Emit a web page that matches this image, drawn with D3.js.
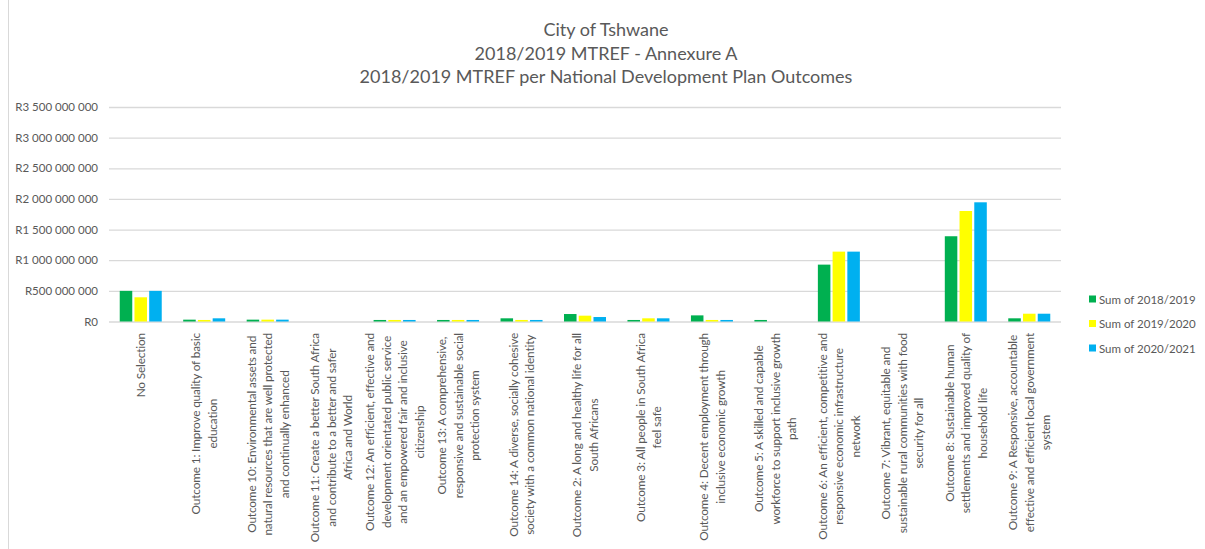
<!DOCTYPE html>
<html lang="en">
<head>
  <meta charset="UTF-8" />
  <title>City of Tshwane MTREF</title>
  <script src="https://cdn.jsdelivr.net/npm/d3@7"></script>
  <style>
    body { margin: 0; background: #fff; }
    text { font-family: Lato, "Open Sans", sans-serif; fill: #595959; }
  </style>
</head>
<body>
  <svg id="chart" width="1205" height="549"></svg>
  <script>
    // categories, wrapped the way the original labels are
    let outcomes = [
      "No Selection",
      "Outcome 1: Improve quality of basic\neducation",
      "Outcome 10: Environmental assets and\nnatural resources that are well protected\nand continually enhanced",
      "Outcome 11: Create a better South Africa\nand contribute to a better and safer\nAfrica and World",
      "Outcome 12: An efficient, effective and\ndevelopment orientated public service\nand an empowered fair and inclusive\ncitizenship",
      "Outcome 13: A comprehensive,\nresponsive and sustainable social\nprotection system",
      "Outcome 14: A diverse, socially cohesive\nsociety with a common national identity",
      "Outcome 2: A long and healthy life for all\nSouth Africans",
      "Outcome 3: All people in South Africa\nfeel safe",
      "Outcome 4: Decent employment through\ninclusive economic growth",
      "Outcome 5: A skilled and capable\nworkforce to support inclusive growth\npath",
      "Outcome 6: An efficient, competitive and\nresponsive economic infrastructure\nnetwork",
      "Outcome 7: Vibrant, equitable and\nsustainable rural communities with food\nsecurity for all",
      "Outcome 8: Sustainable human\nsettlements and improved quality of\nhousehold life",
      "Outcome 9: A Responsive, accountable\neffective and efficient local government\nsystem"
    ];
    let seriesNames = ["Sum of 2018/2019", "Sum of 2019/2020", "Sum of 2020/2021"];
    let seriesColors = ["#00B050", "#FFFF00", "#00B0F0"];

    // values in rand
    let sum2018 = [500e6, 30e6, 30e6, 0, 25e6, 25e6, 52e6, 122e6, 25e6, 100e6, 25e6, 928e6, 0, 1391e6, 52e6];
    let sum2019 = [395e6, 25e6, 30e6, 0, 25e6, 25e6, 25e6, 95e6, 52e6, 25e6, 0, 1140e6, 0, 1803e6, 127e6];
    let sum2020 = [500e6, 52e6, 30e6, 0, 25e6, 25e6, 25e6, 73e6, 52e6, 25e6, 0, 1140e6, 0, 1945e6, 127e6];
    let yTicks = [0, 500e6, 1000e6, 1500e6, 2000e6, 2500e6, 3000e6, 3500e6];
    let titleLines = ["City of Tshwane", "2018/2019 MTREF - Annexure A", "2018/2019 MTREF per National Development Plan Outcomes"];

    let series = [sum2018, sum2019, sum2020];
    let svg = d3.select("#chart");

    // chart border (left edge visible)
    svg.append("line").attr("x1", 8.5).attr("x2", 8.5).attr("y1", 0).attr("y2", 549)
      .attr("stroke", "#d9d9d9");

    // titles
    svg.selectAll(".title").data(titleLines).enter().append("text")
      .attr("x", 606).attr("y", (d, i) => 36 + i * 23.5)
      .attr("text-anchor", "middle")
      .style("font-size", "18px")
      .text(d => d);

    let x = d3.scaleBand().domain(d3.range(outcomes.length)).range([109, 1061]);
    let inner = d3.scaleBand().domain(d3.range(3)).range([x.bandwidth() / 2 - 21, x.bandwidth() / 2 + 21]).paddingInner(0.15);
    let y = d3.scaleLinear().domain([0, 3500e6]).range([321.5, 107]);

    let fmt = d => "R" + d3.format(",")(d).replace(/,/g, " ");

    // gridlines + y labels
    let yAxis = d3.axisLeft(y).tickValues(yTicks).tickFormat(fmt).tickSize(-(1061 - 109)).tickPadding(11);
    let ga = svg.append("g").attr("transform", "translate(109,0)").call(yAxis);
    ga.select(".domain").remove();
    ga.selectAll(".tick line").attr("stroke", "#d9d9d9").attr("stroke-width", 1.3);
    ga.selectAll(".tick text").style("font-size", "11.5px").style("fill", "#595959")
      .style("font-family", "Lato, sans-serif");

    // bars
    let groups = svg.selectAll(".grp").data(outcomes).enter().append("g")
      .attr("transform", (d, i) => "translate(" + x(i) + ",0)");
    groups.selectAll("rect").data((d, i) => series.map((s, k) => ({ k: k, v: s[i] }))).enter()
      .append("rect")
      .attr("x", d => inner(d.k))
      .attr("width", inner.bandwidth())
      .attr("y", d => y(d.v))
      .attr("height", d => y(0) - y(d.v))
      .attr("fill", d => seriesColors[d.k]);

    // x labels, rotated, lines centered, block starts just under the axis
    let lineH = 16.5;
    outcomes.forEach(function (lab, i) {
      let lines = lab.split("\n");
      let g = svg.append("g");
      let ts = lines.map(function (ln, j) {
        return g.append("text").attr("text-anchor", "middle").attr("dominant-baseline", "central")
          .style("font-size", "11.8px").style("letter-spacing", "-0.15px").text(ln);
      });
      let maxLen = d3.max(ts, t => t.node().getComputedTextLength());
      let cx = x(i) + x.bandwidth() / 2;
      let cy = 333 + maxLen / 2;
      ts.forEach(function (t, j) {
        let xx = cx + (j - (lines.length - 1) / 2) * lineH;
        t.attr("transform", "translate(" + xx + "," + cy + ") rotate(-90)");
      });
    });

    // legend
    let leg = svg.selectAll(".leg").data(seriesNames).enter().append("g")
      .attr("transform", (d, i) => "translate(1089," + (299 + i * 24.5) + ")");
    leg.append("rect").attr("x", 0).attr("y", -3.5).attr("width", 7).attr("height", 7)
      .attr("fill", (d, i) => seriesColors[i]);
    leg.append("text").attr("x", 10).attr("dominant-baseline", "central")
      .style("font-size", "11.5px").text(d => d);
  </script>
</body>
</html>
